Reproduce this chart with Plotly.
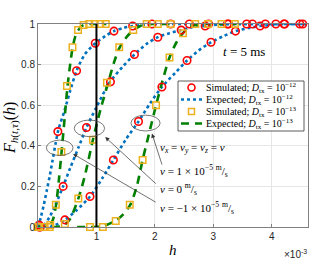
import plotly.graph_objects as go

# ---------------- data (h in units of 1e-3) ----------------
# D_tx = 1e-12 : expected curves (blue dotted)
h_exp12_vp = [0, 0.05, 0.1, 0.15, 0.2, 0.25, 0.3, 0.35, 0.45, 0.55, 0.66, 0.8, 0.98, 1.15, 1.3, 1.45, 1.62, 1.8, 2.0, 2.5, 3.0, 3.5, 4.0, 4.6]
F_exp12_vp = [0, 0.05, 0.11, 0.18, 0.25, 0.33, 0.41, 0.48, 0.57, 0.67, 0.77, 0.85, 0.905, 0.94, 0.965, 0.98, 0.99, 0.995, 1, 1, 1, 1, 1, 1]
h_exp12_v0 = [0, 0.1, 0.2, 0.3, 0.43, 0.55, 0.69, 0.83, 1.0, 1.22, 1.45, 1.65, 1.85, 2.05, 2.25, 2.45, 2.65, 2.85, 3.1, 3.3, 4.0, 4.6]
F_exp12_v0 = [0, 0.01, 0.05, 0.11, 0.20, 0.29, 0.39, 0.49, 0.59, 0.71, 0.79, 0.85, 0.90, 0.935, 0.955, 0.97, 0.985, 0.99, 0.997, 1, 1, 1]
h_exp12_vm = [0, 0.2, 0.3, 0.46, 0.65, 0.89, 1.1, 1.29, 1.5, 1.72, 1.92, 2.12, 2.35, 2.55, 2.75, 2.96, 3.17, 3.38, 3.6, 3.8, 4.0, 4.22, 4.6]
F_exp12_vm = [0, 0.0, 0.01, 0.035, 0.08, 0.15, 0.24, 0.33, 0.43, 0.52, 0.61, 0.69, 0.76, 0.82, 0.87, 0.91, 0.94, 0.965, 0.98, 0.99, 0.995, 1, 1]

# D_tx = 1e-12 : simulated (red circles)
h_sim12_vp = [0.02, 0.34, 0.66, 0.98, 1.30, 1.62, 1.95, 2.27, 2.59, 2.92, 3.24, 3.57, 3.89, 4.21, 4.53]
F_sim12_vp = [0.01, 0.47, 0.77, 0.905, 0.965, 0.99, 1, 1, 1, 1, 1, 1, 1, 1, 1]
h_sim12_v0 = [0.02, 0.43, 0.83, 1.24, 1.65, 2.05, 2.45, 2.86, 3.26, 3.67, 4.07, 4.48]
F_sim12_v0 = [0.0, 0.20, 0.49, 0.715, 0.85, 0.935, 0.97, 0.99, 1, 1, 1, 1]
h_sim12_vm = [0.04, 0.46, 0.89, 1.29, 1.72, 2.12, 2.55, 2.96, 3.38, 3.80, 4.22, 4.64]
F_sim12_vm = [0, 0.035, 0.15, 0.33, 0.52, 0.69, 0.82, 0.91, 0.965, 0.99, 1, 1]

# D_tx = 1e-13 : expected curves (green dashed)
h_exp13_vp = [0, 0.15, 0.21, 0.26, 0.31, 0.36, 0.41, 0.46, 0.5, 0.55, 0.59, 0.64, 0.69, 0.75, 0.85, 1.0, 1.17]
F_exp13_vp = [0, 0, 0.01, 0.04, 0.11, 0.24, 0.39, 0.55, 0.68, 0.80, 0.88, 0.94, 0.97, 0.99, 1, 1, 1]
h_exp13_v0 = [0, 0.3, 0.45, 0.55, 0.69, 0.8, 0.94, 1.07, 1.2, 1.3, 1.39, 1.5, 1.63, 1.75, 1.86, 2.1, 2.3]
F_exp13_v0 = [0, 0, 0.01, 0.04, 0.14, 0.25, 0.43, 0.58, 0.71, 0.81, 0.88, 0.93, 0.97, 0.99, 1, 1, 1]
h_exp13_vm = [0.67, 0.9, 1.1, 1.32, 1.45, 1.58, 1.69, 1.79, 1.9, 2.02, 2.13, 2.25, 2.37, 2.48, 2.6, 2.7, 2.85, 3.4]
F_exp13_vm = [0, 0, 0.003, 0.03, 0.06, 0.11, 0.2, 0.33, 0.46, 0.60, 0.72, 0.835, 0.91, 0.955, 0.985, 0.995, 1, 1]

# D_tx = 1e-13 : simulated (orange squares)
h_sim13_vp = [0.02, 0.115, 0.21, 0.305, 0.40, 0.495, 0.59, 0.685, 0.78, 0.875, 0.97, 1.065, 1.16]
F_sim13_vp = [0, 0, 0.01, 0.11, 0.37, 0.695, 0.885, 0.97, 0.995, 1, 1, 1, 1]
h_sim13_v0 = [0.0, 0.2, 0.46, 0.69, 0.94, 1.18, 1.39, 1.63, 1.86, 2.05, 2.27]
F_sim13_v0 = [0, 0, 0.015, 0.14, 0.43, 0.71, 0.885, 0.97, 1, 1, 1]
h_sim13_vm = [0.89, 1.11, 1.33, 1.57, 1.79, 2.02, 2.25, 2.48, 2.69, 2.91, 3.14, 3.37]
F_sim13_vm = [0, 0, 0.03, 0.11, 0.33, 0.60, 0.835, 0.955, 1, 1, 1, 1]

x_ticks = [1, 2, 3, 4]
y_ticks = [0, 0.2, 0.4, 0.6, 0.8, 1]
y_ticklabels = ["0", "0.2", "0.4", "0.6", "0.8", "1"]

legend_names = [
    "Simulated; <i>D</i><sub>tx</sub> = 10<sup>−12</sup>",
    "Expected; <i>D</i><sub>tx</sub> = 10<sup>−12</sup>",
    "Simulated; <i>D</i><sub>tx</sub> = 10<sup>−13</sup>",
    "Expected; <i>D</i><sub>tx</sub> = 10<sup>−13</sup>",
]

BLUE = "#0072BD"
GREEN = "#008000"
RED = "#FF0000"
ORANGE = "#EDB120"
SERIF = "Liberation Serif, DejaVu Serif, serif"
SANS = "Liberation Sans, Arial, sans-serif"

# layout geometry (page pixels)
W, H = 335, 260
PLOT_L, PLOT_R, PLOT_T, PLOT_B = 38, 308, 24, 227
ML, MT = PLOT_L, PLOT_T
MR, MB = W - PLOT_R, H - PLOT_B
PW, PH = PLOT_R - PLOT_L, PLOT_B - PLOT_T


def px(xp):
    return (xp - PLOT_L) / PW


def py(yp):
    return (PLOT_B - yp) / PH


fig = go.Figure()

exp12 = [(h_exp12_vp, F_exp12_vp), (h_exp12_v0, F_exp12_v0), (h_exp12_vm, F_exp12_vm)]
exp13 = [(h_exp13_vp, F_exp13_vp), (h_exp13_v0, F_exp13_v0), (h_exp13_vm, F_exp13_vm)]
sim12 = [(h_sim12_vp, F_sim12_vp), (h_sim12_v0, F_sim12_v0), (h_sim12_vm, F_sim12_vm)]
sim13 = [(h_sim13_vp, F_sim13_vp), (h_sim13_v0, F_sim13_v0), (h_sim13_vm, F_sim13_vm)]

for hx, fy in exp12:
    fig.add_trace(go.Scatter(x=hx, y=fy, mode="lines", name=legend_names[1], showlegend=False,
                             line=dict(color=BLUE, width=2.6, dash="dot", shape="spline", smoothing=0.7),
                             cliponaxis=False))
for hx, fy in exp13:
    fig.add_trace(go.Scatter(x=hx, y=fy, mode="lines", name=legend_names[3], showlegend=False,
                             line=dict(color=GREEN, width=2.6, dash="8px,6px", shape="spline", smoothing=0.7),
                             cliponaxis=False))
for hx, fy in sim12:
    fig.add_trace(go.Scatter(x=hx, y=fy, mode="markers", name=legend_names[0], showlegend=False,
                             marker=dict(symbol="circle-open", size=7.5, color=RED, line=dict(width=1.6, color=RED)),
                             cliponaxis=False))
for hx, fy in sim13:
    fig.add_trace(go.Scatter(x=hx, y=fy, mode="markers", name=legend_names[2], showlegend=False,
                             marker=dict(symbol="square-open", size=6.5, color=ORANGE, line=dict(width=1.5, color=ORANGE)),
                             cliponaxis=False))

shapes = [
    dict(type="line", xref="x", yref="y", x0=1, x1=1, y0=0, y1=1, line=dict(color="black", width=2)),
    dict(type="circle", xref="x", yref="y", x0=0.62, x1=1.14, y0=0.445, y1=0.527, line=dict(color="#555", width=0.8)),
    dict(type="circle", xref="x", yref="y", x0=0.143, x1=0.60, y0=0.352, y1=0.428, line=dict(color="#555", width=0.8)),
    dict(type="circle", xref="x", yref="y", x0=1.59, x1=2.09, y0=0.473, y1=0.551, line=dict(color="#555", width=0.8)),
]

# ---- hand-built legend (compact rows like the original) ----
LX0, LY0, LX1, LY1 = 178, 81, 304, 131
shapes.append(dict(type="rect", xref="paper", yref="paper", x0=px(LX0), x1=px(LX1), y0=py(LY1), y1=py(LY0),
                   fillcolor="white", line=dict(color="#333", width=0.8), layer="above"))
row_y = [87.5, 99.5, 111.5, 123.5]
samp_x0, samp_x1 = 181, 202
samp_c = (samp_x0 + samp_x1) / 2
r = 3.5
shapes.append(dict(type="circle", xref="paper", yref="paper", x0=px(samp_c - r), x1=px(samp_c + r),
                   y0=py(row_y[0] + r), y1=py(row_y[0] - r), line=dict(color=RED, width=1.6)))
shapes.append(dict(type="line", xref="paper", yref="paper", x0=px(samp_x0), x1=px(samp_x1),
                   y0=py(row_y[1]), y1=py(row_y[1]), line=dict(color=BLUE, width=2.6, dash="dot")))
s = 3
shapes.append(dict(type="rect", xref="paper", yref="paper", x0=px(samp_c - s), x1=px(samp_c + s),
                   y0=py(row_y[2] + s), y1=py(row_y[2] - s), line=dict(color=ORANGE, width=1.5)))
shapes.append(dict(type="line", xref="paper", yref="paper", x0=px(samp_x0), x1=px(samp_x1),
                   y0=py(row_y[3]), y1=py(row_y[3]), line=dict(color=GREEN, width=2.6, dash="8px,6px")))

annotations = []
for name, ry in zip(legend_names, row_y):
    annotations.append(dict(x=px(204), y=py(ry), xref="paper", yref="paper", xanchor="left", yanchor="middle",
                            showarrow=False, text=name, font=dict(family=SERIF, size=10, color="black")))

annotations += [
    dict(x=1.15, y=0.443, ax=2.04, ay=0.207, xref="x", yref="y", axref="x", ayref="y", text="",
         showarrow=True, arrowhead=2, arrowsize=1.2, arrowwidth=0.7, arrowcolor="#333"),
    dict(x=0.60, y=0.36, ax=2.04, ay=0.118, xref="x", yref="y", axref="x", ayref="y", text="",
         showarrow=True, arrowhead=2, arrowsize=1.2, arrowwidth=0.7, arrowcolor="#333"),
    dict(x=1.95, y=0.46, ax=2.13, ay=0.30, xref="x", yref="y", axref="x", ayref="y", text="",
         showarrow=True, arrowhead=2, arrowsize=1.2, arrowwidth=0.7, arrowcolor="#333"),
    dict(x=2.05, y=0.39, xref="x", yref="y", xanchor="left", yanchor="middle", showarrow=False,
         text="<i>v<sub>x</sub></i> = <i>v<sub>y</sub></i> = <i>v<sub>z</sub></i> = <i>v</i>",
         font=dict(family=SERIF, size=11, color="black")),
    dict(x=2.05, y=0.276, xref="x", yref="y", xanchor="left", yanchor="middle", showarrow=False,
         text="<i>v</i> = 1 × 10<sup>−5</sup> <sup>m</sup>/<sub>s</sub>",
         font=dict(family=SERIF, size=11, color="black")),
    dict(x=2.05, y=0.186, xref="x", yref="y", xanchor="left", yanchor="middle", showarrow=False,
         text="<i>v</i> = 0 <sup>m</sup>/<sub>s</sub>",
         font=dict(family=SERIF, size=11, color="black")),
    dict(x=2.05, y=0.092, xref="x", yref="y", xanchor="left", yanchor="middle", showarrow=False,
         text="<i>v</i> = −1 × 10<sup>−5</sup> <sup>m</sup>/<sub>s</sub>",
         font=dict(family=SERIF, size=11, color="black")),
    dict(x=3.52, y=0.864, xref="x", yref="y", xanchor="center", yanchor="middle", showarrow=False,
         text="<i>t</i> = 5 ms", font=dict(family=SERIF, size=13, color="black")),
    dict(x=px(309), y=py(254), xref="paper", yref="paper", xanchor="right", yanchor="middle", showarrow=False,
         text="×10<sup>-3</sup>", font=dict(family=SANS, size=10, color="#262626")),
    dict(x=px(172.5), y=py(250), xref="paper", yref="paper", xanchor="center", yanchor="middle", showarrow=False,
         text="<i>h</i>", font=dict(family=SERIF, size=15, color="black")),
    dict(x=px(11), y=py(128), xref="paper", yref="paper", xanchor="center", yanchor="middle", showarrow=False,
         textangle=-90,
         text="<i>F</i><sub><i>h</i>(<i>t</i>,<i>τ</i>)</sub>(<i>h</i>)",
         font=dict(family=SERIF, size=16, color="black")),
]

fig.update_layout(
    width=W, height=H,
    margin=dict(l=ML, r=MR, t=MT, b=MB, autoexpand=False),
    paper_bgcolor="white", plot_bgcolor="white",
    showlegend=False,
    hovermode=False,
    shapes=shapes,
    annotations=annotations,
)
fig.update_xaxes(range=[0, 4.62], tickvals=x_ticks, ticktext=[str(t) for t in x_ticks],
                 showgrid=True, gridcolor="#e6e6e6", gridwidth=1, automargin=False,
                 showline=True, linecolor="#808080", linewidth=1, mirror=True,
                 ticks="inside", ticklen=3, tickcolor="#808080", zeroline=False,
                 tickfont=dict(family=SANS, size=10, color="#262626"))
fig.update_yaxes(range=[0, 1], tickvals=y_ticks, ticktext=y_ticklabels,
                 showgrid=True, gridcolor="#e6e6e6", gridwidth=1, automargin=False,
                 showline=True, linecolor="#808080", linewidth=1, mirror=True,
                 ticks="inside", ticklen=3, tickcolor="#808080", zeroline=False,
                 tickfont=dict(family=SANS, size=10, color="#262626"))

fig.write_html("out.html", config={"displayModeBar": False, "staticPlot": True},
               post_script="document.body.style.margin='0';")
